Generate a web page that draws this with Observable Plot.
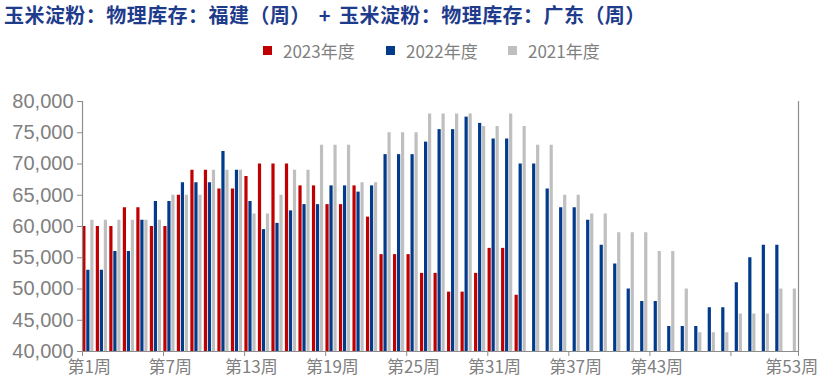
<!DOCTYPE html>
<html>
<head>
<meta charset="utf-8">
<script src="https://cdn.jsdelivr.net/npm/d3@7"></script>
<script src="https://cdn.jsdelivr.net/npm/@observablehq/plot@0.6"></script>
<style>
  html, body { margin: 0; padding: 0; background: #fff; }
  #root { position: relative; width: 838px; height: 386px; overflow: hidden; background: #fff; }
  #title { position: absolute; left: 4px; top: 0px; font-family: "Noto Sans CJK SC", sans-serif; font-weight: bold; font-size: 20px; color: #1f3c8c; white-space: pre; line-height: 29px; letter-spacing: 0.45px; word-spacing: 3px; }
  #legend { position: absolute; left: 0; top: 38px; width: 838px; height: 24px; }
  .item { position: absolute; top: 0; display: flex; align-items: center; height: 24px; font-family: "Noto Sans CJK SC", sans-serif; font-size: 17px; color: #7f7f7f; white-space: nowrap; }
  .sw { width: 9px; height: 9px; margin-right: 11px; }
  #chart { position: absolute; left: 0; top: 80px; }
</style>
</head>
<body>
<div id="root">
  <div id="title"></div>
  <div id="legend"></div>
  <div id="chart"></div>
</div>
<script>
const titleText = "玉米淀粉：物理库存：福建（周） + 玉米淀粉：物理库存：广东（周）";
const seriesNames = ["2023年度", "2022年度", "2021年度"];
const seriesColors = ["#C00000", "#023A8C", "#BFBFBF"];
const weeks = d3.range(1, 54);
const xLabelWeeks = [1, 7, 13, 19, 25, 31, 37, 43, 53];
const xBoundaryTicks = [0, 6, 12, 18, 24, 30, 36, 42, 48, 53];
const yTicks = [40000, 45000, 50000, 55000, 60000, 65000, 70000, 75000, 80000];

const v2023 = [60000, 60000, 60000, 63000, 63000, 60000, 60000, 65000, 69000, 69000,
  66000, 66000, 68000, 70000, 70000, 70000, 66500, 66500, 63500, 63500,
  66500, 61500, 55500, 55500, 55500, 52500, 52500, 49500, 49500, 52500,
  56500, 56500, 49000, null, null, null, null, null, null, null,
  null, null, null, null, null, null, null, null, null, null,
  null, null, null];
const v2022 = [53000, 53000, 56000, 56000, 61000, 64000, 64000, 67000, 67000, 67000,
  72000, 69000, 64000, 59500, 60500, 62500, 63500, 63500, 66500, 66500,
  65500, 66500, 71500, 71500, 71500, 73500, 75500, 75500, 77500, 76500,
  74000, 74000, 70000, 70000, 66000, 63000, 63000, 61000, 57000, 54000,
  50000, 48000, 48000, 44000, 44000, 44000, 47000, 47000, 51000, 55000,
  57000, 57000, null];
const v2021 = [61000, 61000, 61000, 61000, 61000, 61000, 65000, 65000, 65000, 69000,
  69000, 69000, 62000, 62000, 65000, 69000, 69000, 73000, 73000, 73000,
  67000, 67000, 75000, 75000, 75000, 78000, 78000, 78000, 78000, 76000,
  76000, 78000, 76000, 73000, 73000, 65000, 65000, 62000, 62000, 59000,
  59000, 59000, 56000, 56000, 50000, 43000, 43000, 43000, 46000, 46000,
  46000, 50000, 50000];

const seriesValues = [v2023, v2022, v2021];

document.getElementById("title").textContent = titleText;

// legend
const legendX = [263, 386, 508];
const legend = document.getElementById("legend");
seriesNames.forEach((name, i) => {
  const it = document.createElement("div");
  it.className = "item";
  it.style.left = legendX[i] + "px";
  const sw = document.createElement("span");
  sw.className = "sw";
  sw.style.background = seriesColors[i];
  it.appendChild(sw);
  it.appendChild(document.createTextNode(name));
  legend.appendChild(it);
});

const rows = [];
seriesValues.forEach((vals, i) => {
  weeks.forEach((w, k) => {
    if (vals[k] != null) rows.push({week: w, series: seriesNames[i], idx: i, value: vals[k]});
  });
});

const groupOffset = 0.02, pitch = 0.296, barW = 0.237;
const axisGray = "#8c8c8c";
const textGray = "#808080";

const chart = Plot.plot({
  width: 838,
  height: 306,
  marginTop: 21,
  marginBottom: 35,
  marginLeft: 82,
  marginRight: 40,
  style: {fontFamily: "'Noto Sans CJK SC', sans-serif", background: "white", overflow: "visible"},
  x: {domain: [0, 53]},
  y: {domain: [40000, 80000]},
  color: {domain: seriesNames, range: seriesColors},
  marks: [
    Plot.rectY(rows, {
      x1: d => d.week - 1 + groupOffset + d.idx * pitch,
      x2: d => d.week - 1 + groupOffset + d.idx * pitch + barW,
      y1: d => 40000,
      y2: "value",
      fill: "series"
    }),
    Plot.ruleX([0], {stroke: axisGray, strokeWidth: 1.2}),
    Plot.ruleX([53], {stroke: axisGray, strokeWidth: 1.2}),
    Plot.ruleY([40000], {stroke: axisGray, strokeWidth: 1.2}),
    Plot.axisY({ticks: yTicks, tickSize: 5, tickPadding: 4, tickFormat: d3.format(","),
      stroke: axisGray, fill: textGray, fontSize: 20, fontFamily: "'Liberation Sans', sans-serif", label: null}),
    Plot.axisX({ticks: xBoundaryTicks, tickSize: 5, tickFormat: () => "", stroke: axisGray, label: null}),
    Plot.axisX({ticks: xLabelWeeks.map(w => w - 0.5), tickSize: 0, tickPadding: 9,
      tickFormat: d => `第${d + 0.5}周`, fill: textGray, fontSize: 17, label: null})
  ]
});
document.getElementById("chart").appendChild(chart);
</script>
</body>
</html>
